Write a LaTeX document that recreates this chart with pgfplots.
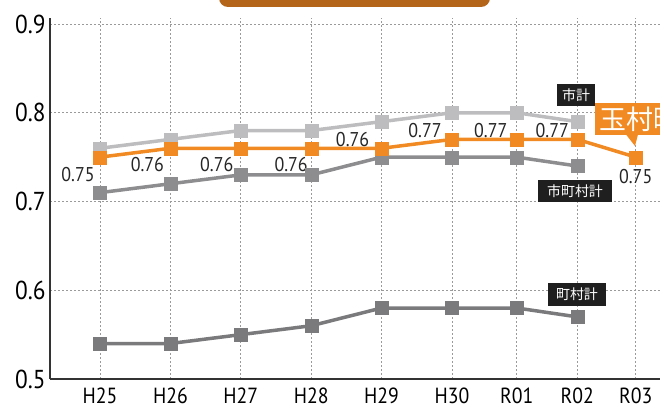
\documentclass[border=0pt]{standalone}
\usepackage{pgfplots}
\pgfplotsset{compat=1.18}
\usepackage{fontspec}
\setmainfont{PT Sans}[FakeStretch=0.9]
\newfontfamily\jp{Noto Sans CJK JP}
\definecolor{cShi}{HTML}{BDBDBF}
\definecolor{cOra}{HTML}{F18A22}
\definecolor{cSCS}{HTML}{8D8D90}
\definecolor{cCS}{HTML}{7A7A7D}
\definecolor{cTop}{HTML}{B5651A}
\definecolor{cGrid}{HTML}{9A9A9A}
\tikzset{lbl/.style={font=\fontsize{20}{20}\selectfont, text=black!85, inner sep=0pt},
  jl/.style={fill=black!88, text=white, inner sep=0pt, font=\jp\fontsize{14}{14}\selectfont}}
\begin{document}
\begin{tikzpicture}
\useasboundingbox (0bp,0bp) rectangle (660bp,412bp);
\begin{scope}[overlay]
\clip (0bp,0bp) rectangle (660bp,412bp);
\begin{axis}[
  at={(50bp,33bp)}, anchor=south west,
  scale only axis, width=610bp, height=361bp,
  xmin=-0.71, xmax=7.955, ymin=0.5, ymax=0.9068,
  axis lines=left,
  axis line style={-, draw=black!80, line width=1.3bp},
  xtick={0,1,2,3,4,5,5.92,6.78,7.61},
  xticklabels={H25,H26,H27,H28,H29,H30,R01,R02,R03},
  ytick={0.5,0.6,0.7,0.8,0.9},
  yticklabels={0.5,0.6,0.7,0.8,0.9},
  major tick length=0pt,
  xmajorgrids, ymajorgrids,
  major grid style={cGrid, line width=0.9bp, dash pattern=on 2bp off 2bp},
  xticklabel style={font=\fontsize{22}{22}\selectfont, yshift=-5bp},
  yticklabel style={font=\fontsize{26}{26}\selectfont, xshift=-1bp},
  every axis plot/.append style={line width=3.5bp},
  clip=false,
]
\addplot[cShi, mark=square*, mark size=6.5bp, mark options={fill=cShi, draw=cShi, line width=0.1bp}]
  coordinates {(0,0.76)(1,0.77)(2,0.78)(3,0.78)(4,0.79)(5,0.80)(5.92,0.80)(6.78,0.79)};
\addplot[cSCS, mark=square*, mark size=6.5bp, mark options={fill=cSCS, draw=cSCS, line width=0.1bp}]
  coordinates {(0,0.71)(1,0.72)(2,0.73)(3,0.73)(4,0.75)(5,0.75)(5.92,0.75)(6.78,0.74)};
\addplot[cCS, mark=square*, mark size=6.5bp, mark options={fill=cCS, draw=cCS, line width=0.1bp}]
  coordinates {(0,0.54)(1,0.54)(2,0.55)(3,0.56)(4,0.58)(5,0.58)(5.92,0.58)(6.78,0.57)};
\addplot[cOra, mark=square*, mark size=6.5bp, mark options={fill=cOra, draw=cOra, line width=0.1bp}]
  coordinates {(0,0.75)(1,0.76)(2,0.76)(3,0.76)(4,0.76)(5,0.77)(5.92,0.77)(6.78,0.77)(7.61,0.75)};
\node[lbl] at (axis cs:0,0.75) [xshift=-22bp, yshift=-17bp] {0.75};
\node[lbl] at (axis cs:1,0.76) [xshift=-23bp, yshift=-16bp] {0.76};
\node[lbl] at (axis cs:2,0.76) [xshift=-24bp, yshift=-16bp] {0.76};
\node[lbl] at (axis cs:3,0.76) [xshift=-20bp, yshift=-16bp] {0.76};
\node[lbl] at (axis cs:4,0.76) [xshift=-29bp, yshift=9bp] {0.76};
\node[lbl] at (axis cs:5,0.77) [xshift=-27bp, yshift=9bp] {0.77};
\node[lbl] at (axis cs:5.92,0.77) [xshift=-26bp, yshift=9bp] {0.77};
\node[lbl] at (axis cs:6.78,0.77) [xshift=-25bp, yshift=9bp] {0.77};
\node[lbl] at (axis cs:7.61,0.75) [yshift=-19bp] {0.75};
\end{axis}
% top title box (cut off)
\fill[cTop, rounded corners=9bp] (219bp,440bp) rectangle (490bp,405bp);
% series labels
\node[jl, minimum width=38bp, minimum height=22bp] at (576bp,317bp) {市計};
\node[jl, minimum width=74bp, minimum height=22bp] at (575bp,221bp) {市町村計};
\node[jl, minimum width=58bp, minimum height=23bp] at (577bp,117.5bp) {町村計};
\fill[cOra] (595bp,277bp) rectangle (720bp,309bp);
\fill[cOra] (626bp,277.5bp) -- (638bp,277.5bp) -- (635bp,266bp) -- cycle;
\node[anchor=west, text=white, inner sep=0pt, font=\jp\fontsize{27}{27}\selectfont] at (599bp,293bp) {玉村町};
\end{scope}
\end{tikzpicture}
\end{document}
